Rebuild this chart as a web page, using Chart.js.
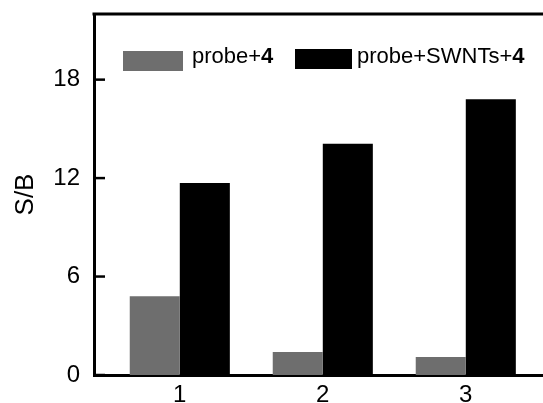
<!DOCTYPE html>
<html>
<head>
<meta charset="utf-8">
<script src="https://cdn.jsdelivr.net/npm/chart.js@4"></script>
<style>
  html, body { margin: 0; padding: 0; background: #fff; }
  #wrap { width: 543px; height: 403px; }
</style>
</head>
<body>
<div id="wrap"><canvas id="myChart" width="543" height="403"></canvas></div>
<script>
// data
const categories = [1, 2, 3];
const probeValues = [4.8, 1.4, 1.1];
const probeSwntValues = [11.7, 14.1, 16.8];
const yTicks = [0, 6, 12, 18];
const seriesNames = ['probe+', 'probe+SWNTs+'];
const seriesSuffix = '4';

const FONT = '"Liberation Sans", Arial, sans-serif';

// inward tick marks, top frame line and the legend with bold "4"
const decor = {
    id: 'decor',
    afterDraw(chart) {
        const ctx = chart.ctx;
        const area = chart.chartArea;
        const y = chart.scales.y;
        ctx.save();
        ctx.strokeStyle = '#000';
        ctx.lineWidth = 3;
        ctx.beginPath();
        ctx.moveTo(area.left - 1.5, area.top);
        ctx.lineTo(area.right + 2, area.top);
        ctx.stroke();
        ctx.lineWidth = 2.5;
        yTicks.forEach(v => {
            const py = y.getPixelForValue(v);
            ctx.beginPath();
            ctx.moveTo(area.left, py);
            ctx.lineTo(area.left + 11, py);
            ctx.stroke();
        });

        // legend
        const items = [
            { box: [123, 51, 60, 20], tx: 192 },
            { box: [295, 49, 57, 20], tx: 357 }
        ];
        chart.data.datasets.forEach((ds, i) => {
            const it = items[i];
            ctx.fillStyle = ds.backgroundColor;
            ctx.fillRect(...it.box);
            ctx.textBaseline = 'alphabetic';
            ctx.fillStyle = '#000';
            ctx.font = '22px ' + FONT;
            ctx.fillText(seriesNames[i], it.tx, 63);
            const w = ctx.measureText(seriesNames[i]).width;
            ctx.font = 'bold 22px ' + FONT;
            ctx.fillText(seriesSuffix, it.tx + w, 63);
        });
        ctx.restore();
    }
};

const data = {
    datasets: [{
        label: seriesNames[0] + seriesSuffix,
        data: categories.map((c, i) => ({ x: c, y: probeValues[i] })),
        backgroundColor: '#6e6e6e',
        borderWidth: 0
    }, {
        label: seriesNames[1] + seriesSuffix,
        data: categories.map((c, i) => ({ x: c, y: probeSwntValues[i] })),
        backgroundColor: '#000000',
        borderWidth: 0
    }]
};

const config = {
    type: 'bar',
    data,
    options: {
        responsive: false,
        animation: false,
        categoryPercentage: 0.7,
        barPercentage: 1,
        layout: { padding: { top: 14, right: 0, left: 0, bottom: 0 } },
        plugins: {
            legend: { display: false },
            tooltip: { enabled: false }
        },
        scales: {
            x: {
                type: 'linear',
                offset: false,
                min: 0.4,
                max: 3.54,
                afterBuildTicks: s => { s.ticks = categories.map(v => ({ value: v })); },
                afterFit: s => { s.height = 28; s.paddingLeft = 0; s.paddingRight = 0; },
                grid: { display: false, drawTicks: false },
                border: { display: true, color: '#000', width: 3 },
                ticks: {
                    padding: 6,
                    color: '#000',
                    font: { family: FONT, size: 24 }
                }
            },
            y: {
                min: 0,
                max: 22,
                afterBuildTicks: s => { s.ticks = yTicks.map(v => ({ value: v })); },
                afterFit: s => { s.width = 94; s.paddingTop = 0; s.paddingBottom = 0; },
                grid: { display: false, drawTicks: false },
                border: { display: true, color: '#000', width: 3 },
                ticks: {
                    padding: 14,
                    color: '#000',
                    font: { family: FONT, size: 24 }
                },
                title: {
                    display: true,
                    text: 'S/B',
                    color: '#000',
                    font: { family: FONT, size: 26 },
                    padding: { top: 10, bottom: 0 }
                }
            }
        }
    },
    plugins: [decor]
};

const myChart = new Chart(document.getElementById('myChart'), config);
</script>
</body>
</html>
